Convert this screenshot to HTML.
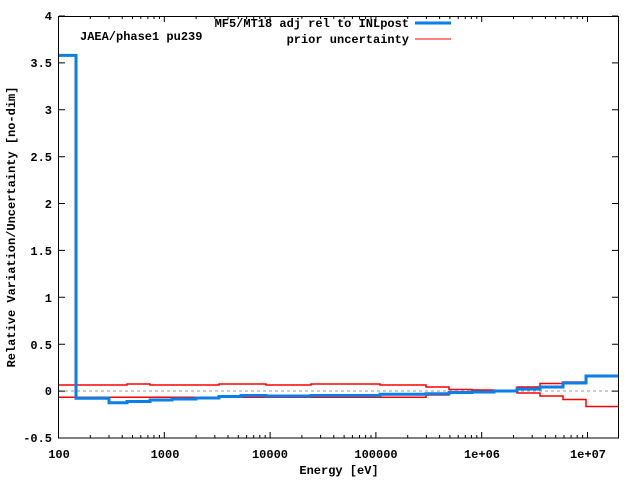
<!DOCTYPE html>
<html><head><meta charset="utf-8"><style>body{margin:0;background:#fff}svg{display:block}text{font-family:"Liberation Mono",monospace;font-size:12px;font-weight:bold;fill:#000}</style></head><body>
<svg width="640" height="480" xmlns="http://www.w3.org/2000/svg">
<defs>
<g id="dec" stroke="#000" stroke-width="1">
<path d="M0,438v-6M0,16v6M31.8,438v-3M31.8,16v3M50.5,438v-3M50.5,16v3M63.7,438v-3M63.7,16v3M74,438v-3M74,16v3M82.3,438v-3M82.3,16v3M89.4,438v-3M89.4,16v3M95.5,438v-3M95.5,16v3M100.9,438v-3M100.9,16v3"/>
</g>
</defs>
<line x1="59" y1="391" x2="618" y2="391" stroke="#999" stroke-dasharray="3,3" stroke-width="1"/>
<use href="#dec" x="58.5"/><use href="#dec" x="164.3"/><use href="#dec" x="270.1"/><use href="#dec" x="375.9"/><use href="#dec" x="481.7"/>
<path stroke="#000" stroke-width="1" d="M587.5,438v-6M587.5,16v6"/>
<path stroke="#000" stroke-width="1" d="M59,16h6M612,16h6M59,62.9h6M612,62.9h6M59,109.8h6M612,109.8h6M59,156.7h6M612,156.7h6M59,203.5h6M612,203.5h6M59,250.4h6M612,250.4h6M59,297.3h6M612,297.3h6M59,344.2h6M612,344.2h6M59,391.1h6M612,391.1h6M59,438h6M612,438h6"/>
<rect x="58.5" y="16.5" width="560" height="421.5" fill="none" stroke="#000" stroke-width="1"/>
<g text-anchor="end">
<text x="52" y="20">4</text><text x="52" y="67">3.5</text><text x="52" y="114">3</text><text x="52" y="161">2.5</text><text x="52" y="208">2</text><text x="52" y="255">1.5</text><text x="52" y="302">1</text><text x="52" y="349">0.5</text><text x="52" y="395">0</text><text x="52" y="442">-0.5</text>
</g>
<g text-anchor="middle">
<text x="59" y="458">100</text><text x="165" y="458">1000</text><text x="270" y="458">10000</text><text x="376" y="458">100000</text><text x="482" y="458">1e+06</text><text x="588" y="458">1e+07</text>
<text x="339" y="474">Energy [eV]</text>
<text transform="translate(15,227) rotate(-90)">Relative Variation/Uncertainty [no-dim]</text>
</g>
<text x="80" y="40">JAEA/phase1 pu239</text>
<text x="409" y="27" text-anchor="end">MF5/MT18 adj rel to INLpost</text>
<text x="409" y="43" text-anchor="end">prior uncertainty</text>
<line x1="415" y1="23" x2="451" y2="23" stroke="#0a7fe8" stroke-width="3"/>
<line x1="415" y1="39" x2="451" y2="39" stroke="#f00" stroke-width="1"/>
<polyline fill="none" stroke="#f00" stroke-width="1.5" points="59,385 127,385 127,384 150,384 150,385 219,385 219,384 266,384 266,385 311,385 311,384 380,384 380,385 426,385 426,387 449,387 449,389.5 472,389.5 472,390 494,390 494,391.5 517,391.5 517,387 540,387 540,383.5 563,383.5 563,382 586,382 586,375.5 618,375.5"/>
<polyline fill="none" stroke="#f00" stroke-width="1.5" points="59,397.3 380,397.3 426,397.3 426,395 449,395 449,393 472,393 472,392 494,392 494,391.5 517,391.5 517,393 540,393 540,396 563,396 563,399.5 586,399.5 586,406.5 618,406.5"/>
<polyline fill="none" stroke="#0a7fe8" stroke-width="3" points="59,55.4 76,55.4 76,398.3 109,398.3 109,402.7 127,402.7 127,401.5 150,401.5 150,400 172,400 172,399 196,399 196,398 219,398 219,396.5 241,396.5 241,395.5 266,395.5 266,396 311,396 311,395.5 380,395.5 380,394.3 426,394.3 426,393.7 449,393.7 449,392.5 472,392.5 472,392 494,392 494,391 517,391 517,389 540,389 540,387 563,387 563,383 586,383 586,376 618,376"/>
</svg>
</body></html>
